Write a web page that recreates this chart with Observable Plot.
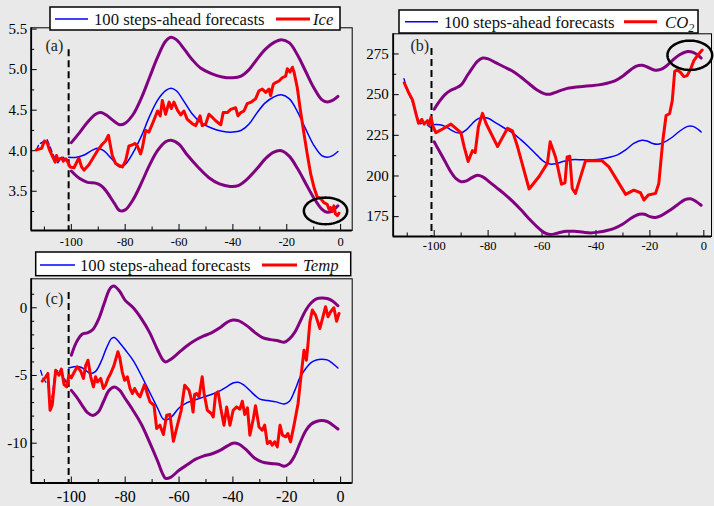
<!DOCTYPE html>
<html><head><meta charset="utf-8">
<script src="https://cdn.jsdelivr.net/npm/d3@7"></script>
<script src="https://cdn.jsdelivr.net/npm/@observablehq/plot@0.6"></script>
<style>
html,body{margin:0;padding:0;background:#e9e9e9;}
#root{position:relative;width:714px;height:506px;overflow:hidden;background:#e9e9e9;font-family:"Liberation Serif","DejaVu Serif",serif;}
#root svg{position:absolute;left:0;top:0;}
</style></head><body><div id="root"></div><script>
// ---------- Panel (a): Ice ----------
const iceObs = [[-113,4.01],[-112,4.02],[-111,4.03],[-110,4.12],[-109,4.10],[-108,4.00],[-107,3.93],[-106,3.86],[-105.5,3.94],[-105,3.89],[-103.5,3.91],[-103,3.87],[-102,3.90],[-101,3.84],[-100.5,3.80],[-99,3.79],[-97.2,3.91],[-96.2,3.80],[-95.3,3.76],[-93.4,3.83],[-90.3,4.00],[-88.5,4.08],[-87.3,4.12],[-86.2,4.19],[-84.8,3.94],[-83.5,3.84],[-82.3,3.82],[-81,3.80],[-79.8,3.88],[-78.6,4.06],[-77.4,4.07],[-76.4,4.09],[-75.5,4.06],[-74.3,3.96],[-73.6,4.04],[-72.4,4.25],[-71.2,4.23],[-69.9,4.33],[-68,4.49],[-67,4.43],[-66.2,4.62],[-65,4.45],[-63.7,4.60],[-62.9,4.52],[-61.9,4.60],[-60.6,4.50],[-59.4,4.44],[-58.2,4.49],[-57,4.39],[-55,4.33],[-53.8,4.31],[-52.2,4.43],[-51.4,4.31],[-50.1,4.33],[-48.9,4.45],[-47.6,4.41],[-46.4,4.37],[-44.5,4.32],[-43.6,4.47],[-42.1,4.47],[-40.8,4.51],[-39,4.53],[-38.1,4.43],[-37.1,4.47],[-35.9,4.49],[-34.7,4.58],[-33.2,4.60],[-31.6,4.64],[-30.3,4.74],[-29.1,4.76],[-27.8,4.72],[-26.6,4.76],[-26,4.68],[-25,4.82],[-24.1,4.84],[-22.9,4.86],[-21.7,4.90],[-20.4,4.92],[-19.8,5.01],[-18.8,4.97],[-17.9,5.03],[-17.3,4.97],[-16.1,4.78],[-14.9,4.49],[-13.6,4.21],[-12.4,3.96],[-11.1,3.71],[-9.9,3.55],[-8.7,3.43],[-7.4,3.41],[-6.2,3.36],[-5,3.34],[-4.3,3.28],[-3.7,3.30],[-3.1,3.25],[-2.5,3.32],[-1.9,3.22],[-1.2,3.20],[-0.6,3.23]];
const iceFit = [[-113,4.01],[-112,4.08],[-111,4.10],[-110,4.12],[-109,4.14],[-108,4.06],[-107,3.97],[-106,3.90],[-105,3.85],[-104,3.90],[-103,3.92],[-102,3.88],[-101,3.87]];
const iceForecast = [[-101,3.92],[-98,3.92],[-95,3.95],[-92,4.01],[-90,4.03],[-88,4.00],[-85,3.90],[-82,3.80],[-80,3.83],[-77,3.98],[-74,4.18],[-71,4.42],[-68,4.62],[-65,4.74],[-63,4.77],[-61,4.74],[-58,4.60],[-55,4.45],[-52,4.35],[-48,4.28],[-44,4.24],[-40,4.23],[-37,4.25],[-34,4.33],[-31,4.47],[-28,4.59],[-25,4.66],[-22,4.69],[-19,4.64],[-16,4.48],[-13,4.27],[-10,4.07],[-7,3.94],[-5,3.92],[-3,3.94],[-1,3.99]];
const iceUpper = [[-100,4.10],[-97,4.22],[-94,4.35],[-91,4.45],[-89,4.47],[-87,4.44],[-84,4.36],[-82,4.32],[-80,4.34],[-77,4.45],[-74,4.65],[-71,4.90],[-68,5.15],[-65,5.35],[-63,5.40],[-61,5.37],[-58,5.25],[-55,5.12],[-52,5.02],[-48,4.95],[-44,4.91],[-40,4.90],[-37,4.92],[-34,5.00],[-31,5.13],[-28,5.25],[-25,5.33],[-22,5.37],[-19,5.33],[-16,5.18],[-13,4.98],[-10,4.78],[-7,4.63],[-5,4.60],[-3,4.62],[-1,4.67]];
const iceLower = [[-100,3.75],[-97,3.66],[-94,3.61],[-91,3.60],[-89,3.57],[-87,3.50],[-84,3.35],[-82,3.26],[-80,3.27],[-77,3.40],[-74,3.60],[-71,3.82],[-68,4.00],[-65,4.11],[-63,4.13],[-60,4.08],[-57,3.95],[-53,3.80],[-49,3.67],[-45,3.59],[-41,3.56],[-38,3.57],[-35,3.64],[-31,3.78],[-28,3.90],[-25,3.98],[-22,4.00],[-19,3.93],[-16,3.78],[-13,3.60],[-10,3.42],[-7,3.28],[-5,3.24],[-3,3.26],[-1,3.32]];

// ---------- Panel (b): CO2 ----------
const co2Obs = [[-111.1,257.2],[-109.3,250.7],[-108,246.6],[-106.8,238.5],[-105.8,232.4],[-104.6,234.8],[-103.7,231.9],[-102.5,234],[-101.9,231.3],[-101.2,236],[-100.4,230.3],[-99.4,226.6],[-97.5,228.3],[-93.8,231.9],[-90.1,226.6],[-88.9,218.1],[-87.4,208.9],[-85.8,215.6],[-84.8,214.4],[-83.6,230.3],[-82.1,238.5],[-80.8,232.4],[-76.5,218.1],[-72.8,229.3],[-71,227.8],[-69.1,218.1],[-64.8,192],[-61.1,199.7],[-58,207.9],[-57,221],[-55,211.7],[-52.8,195],[-51.5,195.8],[-50.7,211.7],[-49.7,212.1],[-48.8,192.3],[-47.6,189.3],[-43.9,209.3],[-37.7,209.3],[-35.2,205.6],[-29,188.7],[-26,191.3],[-23.5,189.7],[-22.2,185.2],[-20.6,188.3],[-17.9,189.3],[-16.7,195.4],[-15.2,222],[-14,237.2],[-12.7,238.3],[-11.7,246.4],[-10.8,264.4],[-9.9,265.2],[-8.7,263.8],[-7.4,261.1],[-6.2,261.7],[-4.9,265.8],[-3.7,270.9],[-1.9,275],[-0.6,277.4]];
const co2Fit = [[-111.2,259.8],[-110,253],[-109,249],[-108,245],[-107,240],[-106,235],[-105,232],[-104,233],[-103,232],[-102,230.5],[-101,229.5]];
const co2Forecast = [[-101,231.5],[-98,231.5],[-96,230.5],[-94,228.5],[-92,226.8],[-90,226.5],[-88,228.5],[-86,232],[-84,235],[-82,236],[-80,235.5],[-77,232.5],[-74,229.5],[-71,226.5],[-68,222.5],[-65,218],[-62,213],[-59,208.5],[-57,207.3],[-55,207.5],[-52,209],[-49,210],[-45,210],[-41,210],[-38,210.5],[-35,211.5],[-32,213],[-29,216],[-26,220],[-23,222],[-21,221.5],[-19,220],[-17,219.5],[-15,220.5],[-12,223.5],[-9,227.5],[-6,230.5],[-4,230.5],[-2,228.5],[-1,227]];
const co2Upper = [[-100,241],[-98,246],[-96,250],[-94,252.5],[-92,254],[-90,256],[-88,261],[-86,266],[-84,270.5],[-82,272.5],[-80,272],[-77,269.5],[-74,267],[-71,264.5],[-68,261],[-65,257],[-62,253],[-59,250.5],[-57,250.3],[-54,252],[-51,253.7],[-48,254.5],[-45,255],[-42,255.5],[-39,256],[-36,257],[-33,258.5],[-30,261.5],[-27,265.5],[-25,267.5],[-23,268],[-21,267],[-18,265],[-16,265.5],[-14,267.5],[-12,270.5],[-9,274.5],[-6,276.5],[-4,276],[-2,274],[-1,272.5]];
const co2Lower = [[-100,221],[-98,215],[-96,209],[-94,203],[-92,198.5],[-90,196.5],[-88,197],[-86,199],[-84,200.5],[-82,199.5],[-80,197],[-77,193],[-74,189],[-71,184.5],[-68,179.5],[-65,174],[-62,169],[-59,165],[-57,164],[-54,165],[-51,166],[-48,166],[-45,165.5],[-42,165],[-39,165.5],[-36,166.5],[-33,168],[-30,170.5],[-27,174],[-24,176.5],[-22,176.5],[-20,175],[-18,174.5],[-16,175.5],[-13,178.5],[-10,182],[-7,185.5],[-5,186],[-3,184.5],[-1,182]];

// ---------- Panel (c): Temp ----------
const tempObs = [[-110.8,-5.42],[-109.5,-5.10],[-108.7,-4.85],[-107.9,-7.57],[-107.1,-7.2],[-105.8,-4.61],[-104.6,-4.98],[-103.7,-4.53],[-102.7,-5.67],[-101.7,-5.84],[-100.9,-4.98],[-100,-5.17],[-99,-4.78],[-97.8,-4.36],[-96.5,-4.68],[-95.5,-5.22],[-94.7,-4.29],[-93.8,-3.87],[-92.8,-5.10],[-91.8,-5.84],[-91,-5.10],[-90.3,-5.47],[-89.1,-5.22],[-88.1,-5.96],[-87.3,-5.72],[-86.4,-5.22],[-85.4,-4.85],[-84.2,-4.29],[-82.7,-3.25],[-82,-3.69],[-81.1,-4.73],[-80.2,-5.35],[-79.2,-5.10],[-78.2,-5.96],[-77.3,-6.33],[-76.5,-5.96],[-75.5,-6.33],[-74.5,-6.58],[-73.6,-6.09],[-72.8,-5.67],[-71.8,-6.33],[-70.8,-6.95],[-69.3,-7.2],[-68.3,-8.92],[-67.1,-8.67],[-65.8,-9.36],[-64.6,-7.93],[-63.4,-7.88],[-62.1,-9.86],[-60.6,-8.67],[-59.2,-7.57],[-57.9,-5.72],[-56.3,-6.09],[-55.5,-6.7],[-54.8,-7.7],[-54.2,-6.4],[-53.5,-6.33],[-52.6,-6.58],[-51.4,-5.10],[-50.7,-6.33],[-49.5,-7.57],[-48,-7.81],[-47.3,-8.06],[-46.4,-6.33],[-45.5,-6.21],[-44.5,-7.44],[-43.3,-8.67],[-42.3,-7.32],[-41.1,-8.67],[-39.9,-7.57],[-38.6,-7.32],[-37.4,-7.49],[-36.5,-6.9],[-35.6,-7.88],[-34.6,-7.39],[-33.7,-9.41],[-32.4,-8.18],[-31.6,-7.24],[-30.3,-8.80],[-29.1,-9.04],[-28.2,-8.67],[-27.2,-10.03],[-26.2,-9.86],[-25.4,-10.15],[-24.5,-9.9],[-23.5,-10.27],[-22.5,-8.67],[-21.6,-9.41],[-20.4,-9.53],[-19.6,-9.29],[-18.6,-9.9],[-17.3,-8.67],[-15.8,-7.07],[-14.8,-5.22],[-13.6,-3.13],[-12.7,-3.87],[-12.1,-2.64],[-11.4,-1.03],[-10.5,-0.17],[-9.3,-0.54],[-7.7,-1.53],[-6.4,-0.54],[-5.6,0.08],[-4.7,-0.66],[-3.7,-0.29],[-2.5,0.0],[-1.5,-0.99],[-0.6,-0.42]];
const tempFit = [[-111.4,-4.63],[-110.5,-5.2],[-109.5,-5.49],[-108.6,-5.6],[-107.9,-7.3],[-107,-6.4],[-106,-4.7],[-105,-4.65],[-104,-4.8],[-103,-5.0],[-102,-5.5],[-101,-5.3]];
const tempForecast = [[-101,-4.45],[-99,-4.35],[-97,-4.35],[-95,-4.55],[-93,-4.85],[-91,-4.7],[-89,-4.0],[-87,-3.0],[-85,-2.25],[-84,-2.2],[-82,-2.6],[-80,-3.1],[-77,-3.9],[-74,-5.0],[-71,-6.2],[-68,-7.4],[-66,-8.2],[-65,-8.3],[-63,-8.1],[-60,-7.4],[-57,-7.0],[-54,-6.8],[-51,-6.6],[-48,-6.4],[-45,-6.15],[-42,-5.8],[-40,-5.55],[-38,-5.5],[-36,-5.7],[-33,-6.25],[-30,-6.75],[-27,-6.85],[-24,-6.95],[-21,-7.1],[-19,-6.9],[-17,-6.1],[-15,-5.1],[-13,-4.5],[-11,-4.05],[-9,-3.85],[-7,-3.8],[-5,-3.85],[-3,-4.1],[-1,-4.45]];
const tempUpper = [[-100,-3.5],[-98,-2.5],[-96,-1.95],[-94,-1.85],[-92,-1.6],[-90,-0.9],[-88,0.2],[-86,1.3],[-85,1.55],[-84,1.6],[-82,1.2],[-80,0.55],[-77,0.0],[-74,-0.8],[-71,-1.8],[-68,-3.1],[-66,-3.85],[-65,-4.0],[-63,-3.8],[-60,-3.3],[-57,-2.8],[-54,-2.4],[-51,-2.1],[-48,-1.85],[-45,-1.5],[-42,-1.05],[-40,-0.9],[-38,-0.95],[-35,-1.3],[-32,-1.8],[-29,-2.2],[-26,-2.35],[-23,-2.45],[-21,-2.55],[-19,-2.3],[-17,-1.8],[-15,-1.0],[-13,-0.2],[-11,0.35],[-9,0.65],[-7,0.72],[-5,0.68],[-3,0.5],[-1,0.15]];
const tempLower = [[-100,-6.1],[-98,-6.6],[-96,-7.2],[-94,-7.75],[-92,-7.95],[-90,-7.7],[-88,-6.9],[-86,-6.1],[-84,-5.85],[-82,-6.1],[-80,-6.7],[-77,-7.6],[-74,-8.6],[-71,-9.9],[-68,-11.3],[-66,-12.3],[-65,-12.6],[-63,-12.5],[-60,-12.0],[-57,-11.6],[-54,-11.2],[-51,-10.95],[-48,-10.8],[-45,-10.55],[-42,-10.2],[-40,-10.0],[-38,-10.05],[-35,-10.5],[-32,-11.1],[-29,-11.4],[-26,-11.5],[-23,-11.55],[-21,-11.7],[-19,-11.5],[-17,-10.9],[-15,-9.95],[-13,-9.1],[-11,-8.6],[-9,-8.4],[-7,-8.33],[-5,-8.4],[-3,-8.65],[-1,-8.95]];

// ---------- ticks, labels ----------
const xMinorTicks = [-110,-90,-70,-50,-30,-10];
const xMajorTicks = [-100,-80,-60,-40,-20,0];
const iceYMajor = [3.5,4.0,4.5,5.0,5.5];
const iceYMinor = [3.25,3.75,4.25,4.75,5.25];
const co2YMajor = [175,200,225,250,275];
const co2YMinor = [187.5,212.5,237.5,262.5];
const tempYMajor = [-10,-5,0];
const tempYMinor = [-12,-11,-9,-8,-7,-6,-4,-3,-2,-1,1];
const seriesNames = ["Ice", "CO", "Temp"];
const forecastLabel = "100 steps-ahead forecasts";
const panelLabels = ["(a)", "(b)", "(c)"];
const forecastOrigin = -101;
// annotation ellipses (data units)
const ellipseA = {cx: -5.6, cy: 3.258, rx: 8.05, ry: 0.164};
const ellipseB = {cx: -5.2, cy: 274.2, rx: 8.3, ry: 9.0};

const W = 714, H = 506;
const root = document.getElementById("root");

function ellipsePts(e) {
  return d3.range(0, 73).map(i => {
    const t = i / 72 * 2 * Math.PI;
    return [e.cx + e.rx * Math.cos(t), e.cy + e.ry * Math.sin(t)];
  });
}

function panel(p) {
  const pw = p.right - p.left, ph = p.bottom - p.top;
  const X = d => d[0], Y = d => d[1];
  const marks = [
    Plot.tickY(p.yMinor, {y: d => d, insetRight: pw - 3.5, stroke: "black", strokeWidth: 1}),
    Plot.tickY(p.yMajor, {y: d => d, insetRight: pw - 6, stroke: "black", strokeWidth: 1}),
    Plot.tickX(xMinorTicks, {x: d => d, insetTop: ph - 3.5, stroke: "black", strokeWidth: 1}),
    Plot.tickX(xMajorTicks, {x: d => d, insetTop: ph - 6, stroke: "black", strokeWidth: 1}),
    Plot.axisY({ticks: p.yMajor, tickSize: 0, tickPadding: p.yPad, fontSize: p.yFont, tickFormat: p.yFmt, label: null}),
    Plot.axisX({ticks: xMajorTicks, tickSize: 0, tickPadding: p.xPad, fontSize: p.xFont, tickFormat: d => String(d), label: null}),
    Plot.frame({stroke: "black", strokeWidth: 1}),
    Plot.ruleX([p.xDomain[0]], {stroke: "black", strokeWidth: 1.8}),
    Plot.ruleY([p.yDomain[0]], {stroke: "black", strokeWidth: 1.8}),
    Plot.ruleX([{x: forecastOrigin, y1: p.dashTop, y2: p.yDomain[0]}], {x: "x", y1: "y1", y2: "y2", stroke: "black", strokeWidth: 2, strokeDasharray: "7,4"}),
    Plot.line(p.upper, {x: X, y: Y, stroke: "#800080", strokeWidth: 3, curve: "catmull-rom"}),
    Plot.line(p.lower, {x: X, y: Y, stroke: "#800080", strokeWidth: 3, curve: "catmull-rom"}),
    Plot.line(p.fit, {x: X, y: Y, stroke: "#0000ff", strokeWidth: 1.3, strokeDasharray: "5,3"}),
    Plot.line(p.forecast, {x: X, y: Y, stroke: "#0000ff", strokeWidth: 1.5, curve: "catmull-rom"}),
    Plot.line(p.obs, {x: X, y: Y, stroke: "#ff0000", strokeWidth: 3, strokeLinejoin: "round"}),
    Plot.text([p.label], {frameAnchor: "top-left", dx: p.labDx, dy: p.labDy, textAnchor: "start", lineAnchor: "top", fontSize: 16, fill: "#222"})
  ];
  if (p.ellipse) marks.push(Plot.line(ellipsePts(p.ellipse), {x: X, y: Y, stroke: "black", strokeWidth: 2.5, curve: "linear"}));
  const svg = Plot.plot({
    width: W, height: H,
    marginLeft: p.left, marginRight: W - p.right, marginTop: p.top, marginBottom: H - p.bottom,
    x: {domain: p.xDomain}, y: {domain: p.yDomain},
    style: {background: "transparent", fontFamily: "Liberation Serif", color: "black", overflow: "visible"},
    marks
  });
  root.appendChild(svg);
}

panel({left: 30.7, right: 351.7, top: 27.3, bottom: 230, xDomain: [-114.9, 4.3], yDomain: [3.016, 5.516],
  yMajor: iceYMajor, yMinor: iceYMinor, yFmt: d => d.toFixed(1), yPad: 4, yFont: 15, xPad: 7, xFont: 12.5,
  dashTop: 5.245, upper: iceUpper, lower: iceLower, fit: iceFit, forecast: iceForecast, obs: iceObs,
  label: panelLabels[0], labDx: 14.3, labDy: 12, ellipse: ellipseA});

panel({left: 392.7, right: 711, top: 33.3, bottom: 236, xDomain: [-115.2, 2.84], yDomain: [162.8, 287.4],
  yMajor: co2YMajor, yMinor: co2YMinor, yFmt: d => String(d), yPad: 4.4, yFont: 15, xPad: 4.5, xFont: 12.5,
  dashTop: 278.3, upper: co2Upper, lower: co2Lower, fit: co2Fit, forecast: co2Forecast, obs: co2Obs,
  label: panelLabels[1], labDx: 17.3, labDy: 5.5, ellipse: ellipseB});

panel({left: 30.7, right: 351.7, top: 278.3, bottom: 482.5, xDomain: [-114.9, 4.3], yDomain: [-12.94, 2.14],
  yMajor: tempYMajor, yMinor: tempYMinor, yFmt: d => String(d), yPad: 4, yFont: 15, xPad: 8, xFont: 16,
  dashTop: 1.13, upper: tempUpper, lower: tempLower, fit: tempFit, forecast: tempForecast, obs: tempObs,
  label: panelLabels[2], labDx: 14.3, labDy: 14, ellipse: null});

// ---------- legends ----------
const legends = [
  {x: 50, y: 7, w: 290, h: 23, lineY: 19, b1: 55, b2: 88, t1: 94, r1: 276, r2: 310, t2: 313, base: 25, name: seriesNames[0], sub: null},
  {x: 399, y: 10, w: 299, h: 23, lineY: 21.7, b1: 405, b2: 438, t1: 444, r1: 624, r2: 657, t2: 665, base: 27.5, name: seriesNames[1], sub: "2"},
  {x: 35.7, y: 252, w: 315, h: 23.7, lineY: 265, b1: 40, b2: 75, t1: 80, r1: 262, r2: 297, t2: 303, base: 271, name: seriesNames[2], sub: null}
];
const ov = d3.select(root).append("svg").attr("width", W).attr("height", H)
  .style("font-family", "'Liberation Serif', serif");
for (const L of legends) {
  const g = ov.append("g");
  g.append("rect").attr("x", L.x).attr("y", L.y).attr("width", L.w).attr("height", L.h)
    .attr("fill", "white").attr("stroke", "black").attr("stroke-width", 1.5);
  g.append("line").attr("x1", L.b1).attr("x2", L.b2).attr("y1", L.lineY).attr("y2", L.lineY)
    .attr("stroke", "#0000ff").attr("stroke-width", 1.6);
  g.append("text").attr("x", L.t1).attr("y", L.base).attr("font-size", 16.7).attr("fill", "#111").text(forecastLabel);
  g.append("line").attr("x1", L.r1).attr("x2", L.r2).attr("y1", L.lineY).attr("y2", L.lineY)
    .attr("stroke", "#ff0000").attr("stroke-width", 3);
  const t = g.append("text").attr("x", L.t2).attr("y", L.base).attr("font-size", 16.7)
    .attr("font-style", "italic").attr("fill", "#111").text(L.name);
  if (L.sub) t.append("tspan").attr("dy", 4).attr("font-size", 12).text(L.sub);
}
</script></body></html>
